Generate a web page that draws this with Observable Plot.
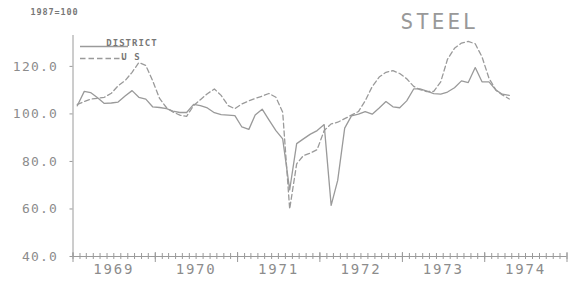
<!DOCTYPE html>
<html><head><meta charset="utf-8">
<script src="https://cdn.jsdelivr.net/npm/d3@7"></script>
<script src="https://cdn.jsdelivr.net/npm/@observablehq/plot@0.6"></script>
<style>
html,body{margin:0;padding:0;background:#fff;}
#chart{width:568px;height:284px;}
</style></head><body><div id="chart"></div>
<script>
// Monthly index values (1967=100), Jan 1969 .. Apr 1974
const district = [
  103.4, 109.5, 109.0, 106.8, 104.4, 104.6, 105.0, 107.5, 109.8, 107.0, 106.2, 103.0,
  102.7, 102.2, 101.2, 100.6, 100.6, 104.0, 103.5, 102.5, 100.5, 99.7, 99.5, 99.3,
  94.5, 93.5, 99.5, 102.0, 97.5, 93.0, 89.5, 68.0, 87.5, 89.5, 91.5, 93.0,
  95.5, 61.5, 72.0, 94.0, 99.2, 99.9, 101.0, 99.9, 102.5, 105.2, 103.0, 102.6,
  105.5, 110.5, 110.5, 109.6, 108.5, 108.3, 109.2, 111.0, 113.9, 113.2, 119.5, 113.5,
  113.5, 110.0, 108.3, 107.8
];
const us = [
  104.0, 105.2, 106.2, 106.6, 107.0, 108.7, 111.8, 114.0, 117.5, 121.6, 120.4, 114.0,
  106.5, 102.6, 100.8, 99.5, 99.0, 103.5, 106.0, 108.5, 110.5, 107.8, 103.5, 102.2,
  104.2, 105.5, 106.5, 107.5, 108.6, 107.0, 100.7, 60.0, 79.0, 82.5, 83.5, 85.0,
  93.0, 95.8, 96.5, 98.0, 99.5, 101.0, 105.5, 111.5, 115.5, 117.5, 118.2, 117.0,
  114.8, 111.6, 110.2, 109.4, 109.5, 113.5, 123.0, 127.6, 129.8, 130.5, 129.5, 124.0,
  115.0, 110.0, 108.0, 106.3
];
const yTicks = [40, 60, 80, 100, 120];
const yearLabels = [1969, 1970, 1971, 1972, 1973, 1974];
const seriesNames = ["DISTRICT", "U S"];
const titleText = "STEEL";
const baseNote = "1987=100";

const monthDate = i => new Date(Date.UTC(1969, i, 20));
const districtRows = district.map((v, i) => ({date: monthDate(i), value: v}));
const usRows = us.map((v, i) => ({date: monthDate(i), value: v}));
const x0 = new Date(Date.UTC(1969, 0, 1)), x1 = new Date(Date.UTC(1975, 0, 1));
const months = d3.utcMonth.range(x0, new Date(Date.UTC(1975, 0, 2)));
const years = d3.utcYear.range(x0, new Date(Date.UTC(1975, 0, 2)));
const mids = yearLabels.map(y => new Date(Date.UTC(y, 6, 1)));

const ink = "#8c8c8c";
const lineInk = "#9a9a9a";
const svg = Plot.plot({
  width: 568, height: 284,
  marginLeft: 72.5, marginRight: 1.5, marginTop: 35, marginBottom: 28,
  style: {fontFamily: "DejaVu Sans Mono", background: "#fff", color: ink},
  x: {type: "utc", domain: [x0, x1], label: null},
  y: {domain: [40, 133], label: null},
  marks: [
    Plot.ruleY([40], {stroke: lineInk}),
    Plot.ruleX([x0], {y1: 40, y2: 133, stroke: lineInk}),
    Plot.ruleX(months, {x: d => d, y1: 40, y2: 40, insetTop: -3, insetBottom: -3, stroke: lineInk}),
    Plot.ruleX(years, {x: d => d, y1: 40, y2: 40, insetTop: -4, insetBottom: -6, stroke: lineInk}),
    Plot.axisY(yTicks, {label: null, tickSize: 3, tickPadding: 12, tickFormat: d => d.toFixed(1), fontSize: 13, stroke: lineInk}),
    Plot.axisX(mids, {label: null, tickSize: 0, tickPadding: 8, tickFormat: d => String(d.getUTCFullYear()), fontSize: 14}),
    Plot.line(districtRows, {x: "date", y: "value", stroke: lineInk, strokeWidth: 1.3}),
    Plot.line(usRows, {x: "date", y: "value", stroke: lineInk, strokeWidth: 1.3, strokeDasharray: "5 3"}),
    Plot.text([titleText], {text: d => d, frameAnchor: "top-left", lineAnchor: "middle", dx: 327.5, dy: -13, fontSize: 21, textAnchor: "start", fill: "#999"}),
    Plot.text([baseNote], {text: d => d, frameAnchor: "top-left", lineAnchor: "middle", dx: -42.5, dy: -23, fontSize: 8.5, fontWeight: "bold", textAnchor: "start", fill: "#777"})
  ]
});
const s = d3.select(svg);
s.selectAll("[aria-label='y-axis tick label'] text").attr("letter-spacing", 1.2);
s.selectAll("[aria-label='x-axis tick label'] text").attr("letter-spacing", 1.8);
s.selectAll("[aria-label='text'] text").filter(function(){return this.textContent === titleText;}).attr("letter-spacing", 3).attr("font-weight", 300);
s.selectAll("[aria-label='text'] text").filter(function(){return this.textContent === baseNote;}).attr("letter-spacing", 0.9);
// legend
const lg = s.append("g").attr("font-family", "DejaVu Sans Mono").attr("font-size", 9).attr("font-weight", "bold").attr("fill", "#777");
lg.append("line").attr("x1", 80).attr("x2", 128).attr("y1", 46.5).attr("y2", 46.5).attr("stroke", lineInk).attr("stroke-width", 1.3);
lg.append("line").attr("x1", 80).attr("x2", 124).attr("y1", 58.5).attr("y2", 58.5).attr("stroke", lineInk).attr("stroke-width", 1.3).attr("stroke-dasharray", "5.5 3");
lg.append("text").attr("x", 132).attr("y", 46).attr("letter-spacing", 1).text(seriesNames[0]);
lg.append("text").attr("x", 131).attr("y", 60).attr("letter-spacing", 1).text(seriesNames[1]);
document.getElementById("chart").append(svg);
</script></body></html>
